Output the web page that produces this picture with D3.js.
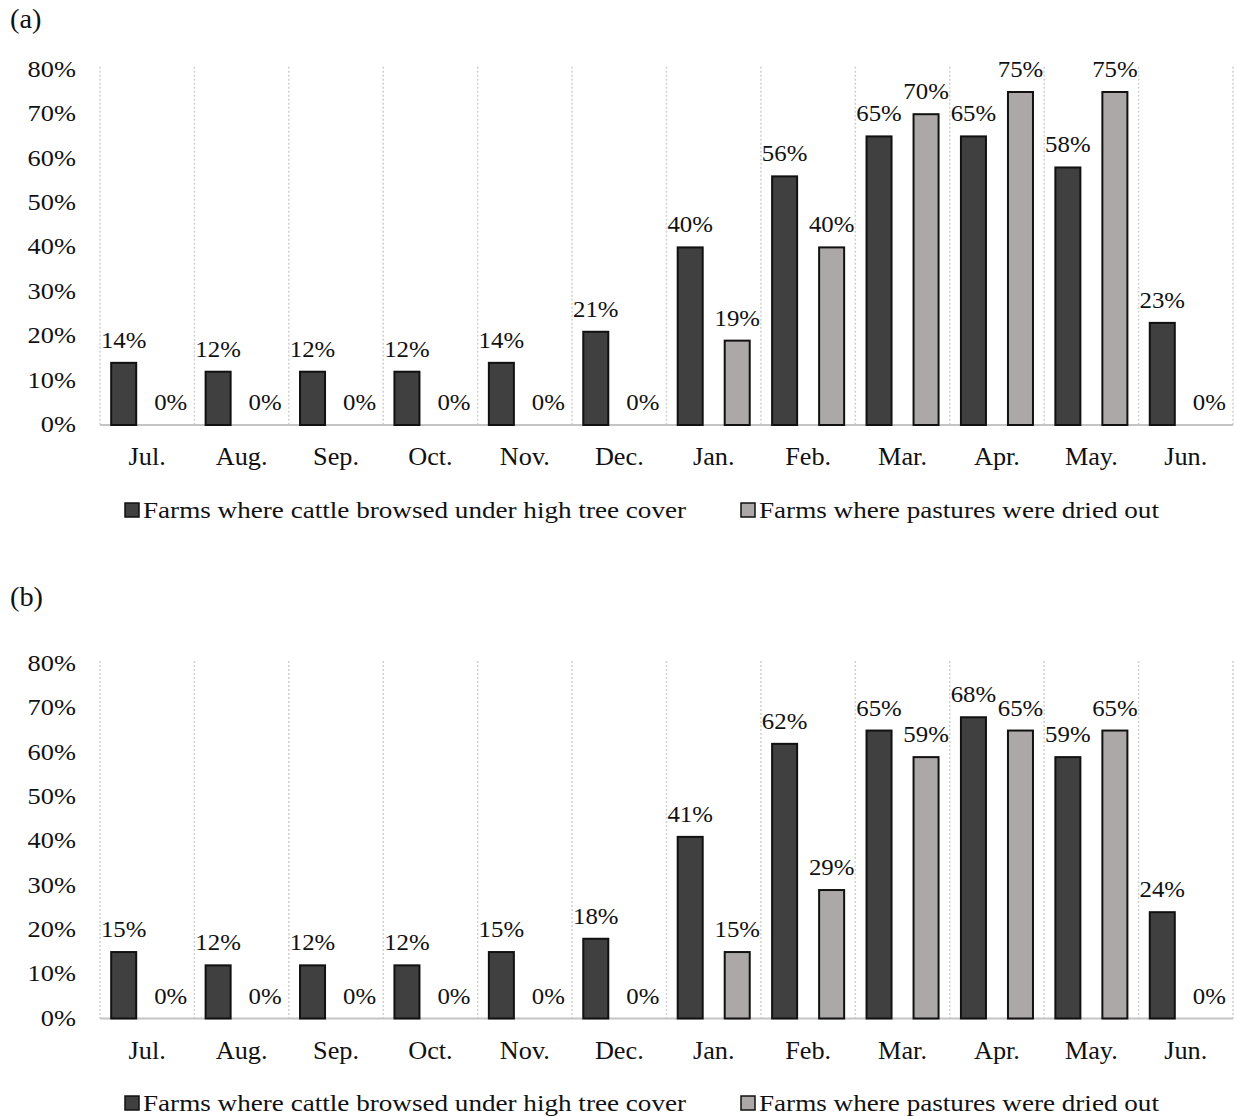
<!DOCTYPE html>
<html>
<head>
<meta charset="utf-8">
<script src="https://cdn.jsdelivr.net/npm/d3@7"></script>
<style>
  html, body { margin: 0; padding: 0; background: #fff; }
  svg { display: block; }
  text { font-family: "Liberation Serif", "Times New Roman", serif; fill: #111; }
</style>
</head>
<body>
<svg id="chart" width="1237" height="1116"></svg>
<script>
// Months of the survey year (July to June)
const months = ["Jul.", "Aug.", "Sep.", "Oct.", "Nov.", "Dec.", "Jan.", "Feb.", "Mar.", "Apr.", "May.", "Jun."];

// Series names
const seriesNames = ["Farms where cattle browsed under high tree cover", "Farms where pastures were dried out"];

// Panel (a): percentage of farms
const browsedA = [14, 12, 12, 12, 14, 21, 40, 56, 65, 65, 58, 23];
const driedA   = [0, 0, 0, 0, 0, 0, 19, 40, 70, 75, 75, 0];

// Panel (b): percentage of farms
const browsedB = [15, 12, 12, 12, 15, 18, 41, 62, 65, 68, 59, 24];
const driedB   = [0, 0, 0, 0, 0, 0, 15, 29, 59, 65, 65, 0];

// Y-axis ticks (percent)
const yTicks = [0, 10, 20, 30, 40, 50, 60, 70, 80];

const panelLabels = ["(a)", "(b)"];

const colors = ["#404040", "#aca8a8"];

const svg = d3.select("#chart");

// Text helper: places text with a slight horizontal stretch
function stretchedText(g, x, y, str, size, sx, anchor) {
  return g.append("text")
    .attr("transform", `translate(${x},${y}) scale(${sx},1)`)
    .attr("text-anchor", anchor)
    .style("font-size", size + "px")
    .text(str);
}

function drawPanel(cfg) {
  const g = svg.append("g");
  const left = 100, right = 1233;

  const x0 = d3.scaleBand().domain(months).range([left, right]).padding(0);
  const x1 = d3.scaleBand().domain([0, 1]).range([0, x0.bandwidth()])
    .paddingInner(0.468).paddingOuter(0.238);
  const y = d3.scaleLinear().domain([0, 80]).range([cfg.base, cfg.top]);

  // panel letter
  stretchedText(g, 10, cfg.labelY, cfg.label, 27, 1.05, "start");

  // dotted vertical separators between months
  const bounds = months.map(m => x0(m)).concat([right]);
  g.selectAll("line.sep").data(bounds).join("line")
    .attr("class", "sep")
    .attr("x1", d => d).attr("x2", d => d)
    .attr("y1", y(80) - 3).attr("y2", y(0))
    .attr("stroke", "#cfcfcf")
    .attr("stroke-width", 1.5)
    .attr("stroke-dasharray", "2,2");

  // y tick labels
  yTicks.forEach(t => {
    stretchedText(g, 76, y(t) + 7, t + "%", 24, 1.1, "end");
  });

  // baseline
  g.append("line")
    .attr("x1", left).attr("x2", right)
    .attr("y1", y(0)).attr("y2", y(0))
    .attr("stroke", "#c4c4c4").attr("stroke-width", 2);

  // bars and value labels
  const series = [cfg.browsed, cfg.dried];
  series.forEach((vals, si) => {
    months.forEach((m, i) => {
      const v = vals[i];
      const bx = x0(m) + x1(si);
      const bw = x1.bandwidth();
      if (v > 0) {
        g.append("rect")
          .attr("x", bx).attr("y", y(v))
          .attr("width", bw).attr("height", y(0) - y(v))
          .attr("fill", colors[si])
          .attr("stroke", "#111").attr("stroke-width", 2);
      }
      stretchedText(g, bx + bw / 2, y(v) - 15, v + "%", 23, 1.08, "middle");
    });
  });

  // month labels
  months.forEach(m => {
    stretchedText(g, x0(m) + x0.bandwidth() / 2, y(0) + 40, m, 25, 1.05, "middle");
  });

  // legend
  const legX = [125, 741];
  seriesNames.forEach((name, si) => {
    g.append("rect")
      .attr("x", legX[si]).attr("y", cfg.legendY - 15)
      .attr("width", 14).attr("height", 14)
      .attr("fill", colors[si])
      .attr("stroke", "#111").attr("stroke-width", 1.5);
    stretchedText(g, legX[si] + 18, cfg.legendY, name, 23, 1.18, "start");
  });
}

drawPanel({ label: panelLabels[0], labelY: 28, top: 425 - 0.8 * 444, base: 425, legendY: 518, browsed: browsedA, dried: driedA });
drawPanel({ label: panelLabels[1], labelY: 606, top: 1018.5 - 0.8 * 443, base: 1018.5, legendY: 1111, browsed: browsedB, dried: driedB });
</script>
</body>
</html>
